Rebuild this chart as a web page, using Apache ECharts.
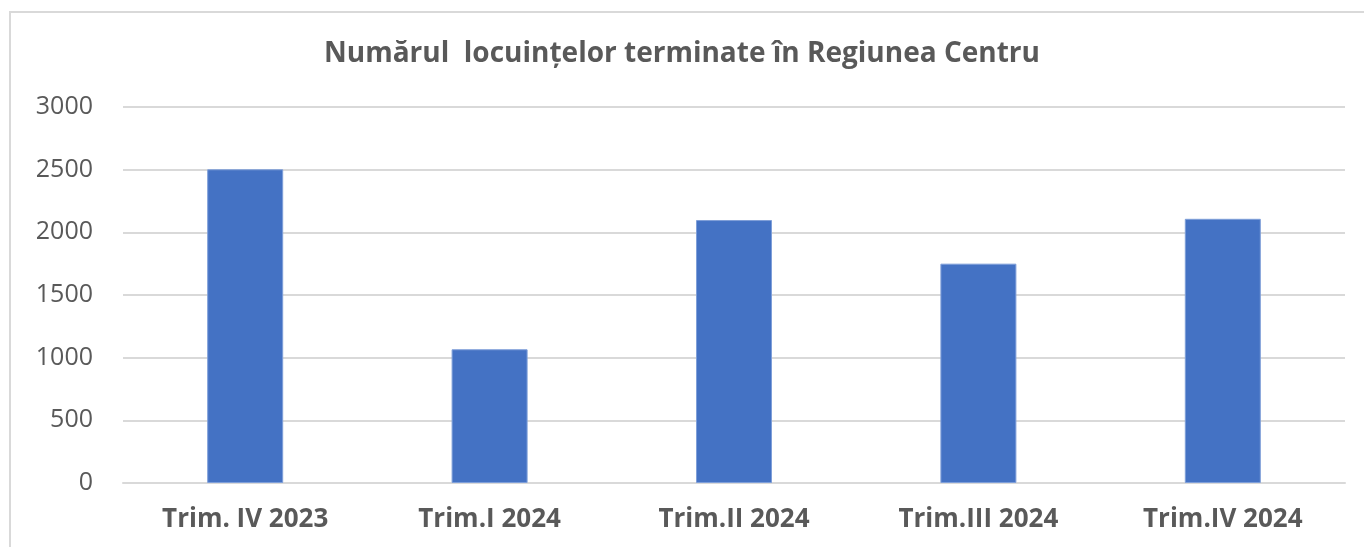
<!DOCTYPE html>
<html>
<head>
<meta charset="utf-8">
<script src="https://cdn.jsdelivr.net/npm/echarts@6/dist/echarts.min.js"></script>
<style>
  html, body { margin: 0; padding: 0; background: #fff; }
  #chart { width: 1364px; height: 547px; }
</style>
</head>
<body>
<div id="chart"></div>
<script>
const chartTitle = 'Numărul  locuințelor terminate în Regiunea Centru';
const categories = ['Trim. IV 2023', 'Trim.I 2024', 'Trim.II 2024', 'Trim.III 2024', 'Trim.IV 2024'];
const values = [2503, 1067, 2098, 1750, 2108];

const font = '"Open Sans", sans-serif';
const chart = echarts.init(document.getElementById('chart'));
chart.setOption({
  animation: false,
  title: {
    text: chartTitle,
    left: 'center',
    top: 35,
    textStyle: { color: '#595959', fontSize: 28, fontWeight: 'bold', fontFamily: font }
  },
  graphic: [{
    type: 'rect',
    shape: { x: 10, y: 12, width: 1400, height: 600 },
    style: { fill: 'none', stroke: '#d9d9d9', lineWidth: 2 },
    silent: true
  }],
  grid: { left: 123, right: 19, top: 107, bottom: 64 },
  xAxis: {
    type: 'category',
    data: categories,
    axisLine: { lineStyle: { color: '#d9d9d9', width: 2 } },
    axisTick: { show: false },
    axisLabel: { color: '#595959', fontSize: 26, fontWeight: 'bold', fontFamily: font, margin: 24 }
  },
  yAxis: {
    type: 'value',
    min: 0,
    max: 3000,
    interval: 500,
    axisLine: { show: false },
    axisTick: { show: false },
    splitLine: { lineStyle: { color: '#d9d9d9', width: 2 } },
    axisLabel: {
      color: '#595959', fontSize: 25, fontFamily: font, margin: 30,
      formatter: function (v) { return String(v); }
    }
  },
  series: [{
    type: 'bar',
    data: values,
    barWidth: 76,
    itemStyle: { color: '#4472c4', borderColor: '#7f9fd9', borderWidth: 1 }
  }]
});
</script>
</body>
</html>
